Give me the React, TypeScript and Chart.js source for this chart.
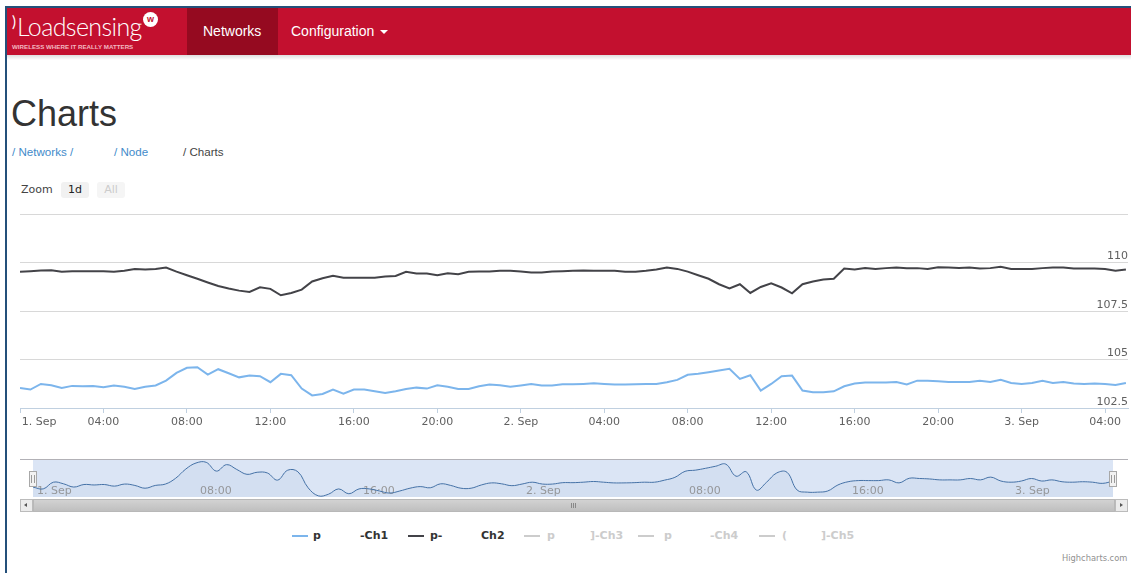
import React, { useEffect, useRef } from 'react';
import { Chart, registerables } from 'chart.js';

Chart.register(...registerables);

// ---- data (half-hourly samples starting 1 Sep 00:00) ----
const sampleIntervalHours = 0.5;
const ch1Values = [
  103.53, 103.45, 103.74, 103.67, 103.53, 103.64, 103.62, 103.64, 103.57, 103.66,
  103.60, 103.48, 103.60, 103.66, 103.91, 104.31, 104.57, 104.60, 104.22, 104.50,
  104.29, 104.08, 104.17, 104.14, 103.83, 104.26, 104.19, 103.50, 103.15, 103.22,
  103.45, 103.24, 103.45, 103.45, 103.36, 103.27, 103.36, 103.48, 103.55, 103.50,
  103.67, 103.60, 103.48, 103.48, 103.62, 103.71, 103.67, 103.59, 103.66, 103.74,
  103.66, 103.66, 103.72, 103.72, 103.74, 103.77, 103.74, 103.71, 103.71, 103.72,
  103.74, 103.74, 103.83, 103.95, 104.21, 104.26, 104.34, 104.43, 104.52, 104.00,
  104.19, 103.40, 103.74, 104.14, 104.17, 103.40, 103.31, 103.31, 103.36, 103.62,
  103.76, 103.81, 103.81, 103.81, 103.84, 103.71, 103.91, 103.90, 103.88, 103.84,
  103.84, 103.84, 103.90, 103.84, 103.96, 103.79, 103.74, 103.79, 103.90, 103.79,
  103.84, 103.76, 103.74, 103.76, 103.74, 103.69, 103.79,
];
const ch2Values = [
  109.52, 109.55, 109.59, 109.60, 109.52, 109.55, 109.55, 109.55, 109.55, 109.52,
  109.57, 109.67, 109.64, 109.67, 109.74, 109.53, 109.34, 109.16, 108.97, 108.79,
  108.66, 108.55, 108.48, 108.72, 108.64, 108.31, 108.43, 108.60, 109.02, 109.19,
  109.31, 109.21, 109.21, 109.21, 109.21, 109.28, 109.31, 109.52, 109.43, 109.43,
  109.34, 109.45, 109.40, 109.52, 109.53, 109.53, 109.57, 109.57, 109.53, 109.48,
  109.48, 109.53, 109.55, 109.57, 109.59, 109.57, 109.57, 109.57, 109.52, 109.52,
  109.57, 109.64, 109.74, 109.67, 109.53, 109.34, 109.16, 108.88, 108.66, 108.88,
  108.43, 108.74, 108.93, 108.71, 108.41, 108.88, 109.02, 109.12, 109.16, 109.69,
  109.64, 109.71, 109.66, 109.71, 109.74, 109.71, 109.71, 109.67, 109.76, 109.74,
  109.72, 109.74, 109.69, 109.71, 109.78, 109.67, 109.67, 109.67, 109.71, 109.74,
  109.74, 109.69, 109.69, 109.69, 109.66, 109.57, 109.64,
];
const sampleHours = ch1Values.map((_, i) => i * sampleIntervalHours);

const mainTickHours = [0, 4, 8, 12, 16, 20, 24, 28, 32, 36, 40, 44, 48, 52];
const navTickHours = [0, 8, 16, 24, 32, 40, 48];
const yTickValues = [102.5, 105, 107.5, 110, 112.5];
const monthName = 'Sep';
const firstDay = 1;

const seriesColors = ['#7cb5ec', '#434348', '#90ed7d', '#f7a35c', '#8085e9'];
const legendNames = [
  ['p', '-Ch1'],
  ['p-', 'Ch2'],
  ['p', ']-Ch3'],
  ['p', '-Ch4'],
  ['(', ']-Ch5'],
];
const legendVisible = [true, true, false, false, false];
const zoomButtons = ['1d', 'All'];

const pad2 = (n: number) => (n < 10 ? '0' + n : String(n));
const timeLabel = (h: number) =>
  h % 24 === 0 ? `${firstDay + h / 24}. ${monthName}` : `${pad2(h % 24)}:00`;

const FONT = 'DejaVu Sans';

const navDecor = {
  id: 'navDecor',
  beforeDraw(chart: any) {
    const { ctx, chartArea } = chart;
    ctx.save();
    ctx.fillStyle = '#dbe5f5';
    ctx.fillRect(chartArea.left, chartArea.top, chartArea.right - chartArea.left, chartArea.bottom - chartArea.top);
    ctx.strokeStyle = '#b2b1b6';
    ctx.lineWidth = 1;
    ctx.beginPath();
    ctx.moveTo(20, Math.round(chartArea.top) - 0.5);
    ctx.lineTo(1128, Math.round(chartArea.top) - 0.5);
    ctx.stroke();
    ctx.restore();
  },
  afterDraw(chart: any) {
    const { ctx, chartArea } = chart;
    const cy = Math.round((chartArea.top + chartArea.bottom) / 2);
    [chartArea.left, chartArea.right].forEach((x0: number) => {
      const x = Math.round(x0);
      ctx.save();
      ctx.fillStyle = '#f2f2f2';
      ctx.strokeStyle = '#a8a8a8';
      ctx.lineWidth = 1;
      ctx.fillRect(x - 4, cy - 8, 8, 15);
      ctx.strokeRect(x - 3.5, cy - 7.5, 7, 15);
      ctx.strokeStyle = '#9a9a9a';
      ctx.beginPath();
      ctx.moveTo(x - 1.5, cy - 4);
      ctx.lineTo(x - 1.5, cy + 4);
      ctx.moveTo(x + 1.5, cy - 4);
      ctx.lineTo(x + 1.5, cy + 4);
      ctx.stroke();
      ctx.restore();
    });
  },
};

export default function App() {
  const mainRef = useRef<HTMLCanvasElement>(null);
  const navRef = useRef<HTMLCanvasElement>(null);

  useEffect(() => {
    const main = new Chart(mainRef.current as HTMLCanvasElement, {
      type: 'line',
      data: {
        datasets: [
          {
            label: legendNames[0].join(''),
            data: sampleHours.map((h, i) => ({ x: h, y: ch1Values[i] })),
            borderColor: seriesColors[0],
            borderWidth: 2,
            pointRadius: 0,
            tension: 0,
          },
          {
            label: legendNames[1].join(''),
            data: sampleHours.map((h, i) => ({ x: h, y: ch2Values[i] })),
            borderColor: seriesColors[1],
            borderWidth: 2,
            pointRadius: 0,
            tension: 0,
          },
        ],
      },
      options: {
        responsive: false,
        animation: false,
        devicePixelRatio: 1,
        layout: { padding: { left: 20, right: 3, top: 9, bottom: 0 } },
        plugins: { legend: { display: false }, tooltip: { enabled: false } },
        scales: {
          x: {
            type: 'linear',
            min: 0,
            max: 53.1,
            afterBuildTicks: (s: any) => {
              s.ticks = mainTickHours.map((v) => ({ value: v }));
            },
            afterFit: (s: any) => {
              s.height = 29;
              s.paddingLeft = 0;
              s.paddingRight = 0;
            },
            ticks: {
              autoSkip: false,
              maxRotation: 0,
              minRotation: 0,
              padding: 3,
              color: '#606060',
              font: { family: FONT, size: 11 },
              callback: (v: any) => (v === 0 ? ' '.repeat(11) + timeLabel(v) : timeLabel(v)),
            },
            grid: {
              display: true,
              drawOnChartArea: false,
              drawTicks: true,
              tickLength: 5,
              color: '#C0D0E0',
            },
            border: { display: true, color: '#C0D0E0', width: 1 },
          },
          y: {
            type: 'linear',
            position: 'right',
            min: 102.5,
            max: 112.5,
            afterBuildTicks: (s: any) => {
              s.ticks = yTickValues.map((v) => ({ value: v }));
            },
            afterFit: (s: any) => {
              s.width = 0;
              s.paddingTop = 0;
              s.paddingBottom = 0;
            },
            ticks: {
              mirror: true,
              padding: 0,
              labelOffset: -6,
              color: '#606060',
              font: { family: FONT, size: 11 },
              callback: (v: any) => (v === yTickValues[yTickValues.length - 1] ? '' : String(v)),
            },
            grid: { color: '#D8D8D8', drawTicks: false },
            border: { display: false },
          },
        },
      },
    } as any);

    const nav = new Chart(navRef.current as HTMLCanvasElement, {
      type: 'line',
      data: {
        datasets: [
          {
            label: 'navigator',
            data: sampleHours.map((h, i) => ({ x: h, y: ch1Values[i] })),
            borderColor: '#4572A7',
            backgroundColor: 'rgba(69,114,167,0.05)',
            fill: 'start',
            borderWidth: 1,
            pointRadius: 0,
            tension: 0.4,
          },
        ],
      },
      options: {
        responsive: false,
        animation: false,
        devicePixelRatio: 1,
        layout: { padding: { left: 33, right: 18, top: 5, bottom: 0 } },
        plugins: { legend: { display: false }, tooltip: { enabled: false } },
        scales: {
          x: {
            type: 'linear',
            min: 0,
            max: sampleHours[sampleHours.length - 1],
            afterBuildTicks: (s: any) => {
              s.ticks = navTickHours.map((v) => ({ value: v }));
            },
            afterFit: (s: any) => {
              s.height = 3;
              s.paddingLeft = 0;
              s.paddingRight = 0;
            },
            ticks: {
              autoSkip: false,
              maxRotation: 0,
              minRotation: 0,
              mirror: true,
              align: 'start',
              labelOffset: 4,
              padding: -1,
              color: '#999999',
              font: { family: FONT, size: 11 },
              callback: (v: any) => timeLabel(v),
            },
            grid: { display: false, drawTicks: false },
            border: { display: false },
          },
          y: {
            type: 'linear',
            display: false,
            min: 103.1,
            max: 104.7,
          },
        },
      },
      plugins: [navDecor],
    } as any);

    return () => {
      main.destroy();
      nav.destroy();
    };
  }, []);

  const abs = (s: React.CSSProperties): React.CSSProperties => ({ position: 'absolute', ...s });
  const legendLayout = [
    { sym: 292, a: 313, b: 360 },
    { sym: 408, a: 430, b: 481 },
    { sym: 524, a: 547, b: 590 },
    { sym: 638, a: 664, b: 710 },
    { sym: 759, a: 782, b: 821 },
  ];

  return (
    <div
      style={abs({
        left: 0,
        top: 0,
        width: 1131,
        height: 573,
        overflow: 'hidden',
        background: '#ffffff',
        fontFamily: '"Liberation Sans", Arial, sans-serif',
      })}
    >
      {/* frame */}
      <div style={abs({ left: 5, top: 6, width: 1126, height: 2, background: '#24507a' })} />
      <div style={abs({ left: 5, top: 6, width: 2, height: 567, background: '#24507a' })} />

      {/* navbar */}
      <div style={abs({ left: 7, top: 8, width: 1124, height: 47, background: '#c3102f' })} />
      <div style={abs({ left: 7, top: 55, width: 1124, height: 5, background: 'linear-gradient(rgba(0,0,0,0.13), rgba(0,0,0,0))' })} />
      <div style={abs({ left: 187, top: 8, width: 91, height: 47, background: '#950a20' })} />
      <div style={abs({ left: 12, top: 13, fontSize: 15, color: '#fff', fontFamily: 'Lato', lineHeight: '16px' })}>)</div>
      <div
        style={abs({
          left: 17,
          top: 11,
          fontSize: 25,
          lineHeight: '30px',
          color: '#ffffff',
          fontFamily: 'Lato',
          fontWeight: 300,
          letterSpacing: -0.6,
        })}
      >
        Loadsensing
      </div>
      <div
        style={abs({
          left: 143,
          top: 12,
          width: 15,
          height: 15,
          borderRadius: 8,
          background: '#fff',
          color: '#c3102f',
          fontSize: 9,
          fontWeight: 700,
          lineHeight: '14px',
          textAlign: 'center',
        })}
      >
        w
      </div>
      <div
        style={abs({
          left: 12,
          top: 43,
          fontSize: 6.2,
          lineHeight: '8px',
          fontWeight: 700,
          color: '#f2b8c1',
          whiteSpace: 'nowrap',
        })}
      >
        WIRELESS WHERE IT REALLY MATTERS
      </div>
      <div style={abs({ left: 203, top: 8, height: 47, lineHeight: '47px', fontSize: 14, color: '#ffffff' })}>Networks</div>
      <div style={abs({ left: 291, top: 8, height: 47, lineHeight: '47px', fontSize: 14, color: '#ffffff' })}>Configuration</div>
      <div
        style={abs({
          left: 380,
          top: 30,
          width: 0,
          height: 0,
          borderLeft: '4px solid transparent',
          borderRight: '4px solid transparent',
          borderTop: '4px solid #ffffff',
        })}
      />

      {/* title + breadcrumb */}
      <div style={abs({ left: 11, top: 96, fontSize: 36, lineHeight: '36px', color: '#333333' })}>Charts</div>
      <div style={abs({ left: 12, top: 145, fontSize: 11.6, lineHeight: '14px', color: '#428bca', whiteSpace: 'pre' })}>/ Networks /</div>
      <div style={abs({ left: 114, top: 145, fontSize: 11.6, lineHeight: '14px', color: '#428bca', whiteSpace: 'pre' })}>/ Node</div>
      <div style={abs({ left: 183, top: 145, fontSize: 11.6, lineHeight: '14px', color: '#444444', whiteSpace: 'pre' })}>/ Charts</div>

      {/* range selector */}
      <div style={abs({ left: 21, top: 182, fontSize: 11, lineHeight: '16px', color: '#444444', fontFamily: FONT })}>Zoom</div>
      {zoomButtons.map((b, i) => (
        <div
          key={b}
          style={abs({
            left: 61 + i * 36,
            top: 182,
            width: 28,
            height: 16,
            borderRadius: 3,
            background: i === 0 ? '#f1f1f1' : '#f5f5f5',
            fontSize: 11,
            lineHeight: '16px',
            textAlign: 'center',
            fontFamily: FONT,
            color: i === 0 ? '#222222' : '#cccccc',
          })}
        >
          {b}
        </div>
      ))}

      {/* main chart */}
      <canvas ref={mainRef} width={1131} height={232} style={abs({ left: 0, top: 205, width: 1131, height: 232 })} />

      {/* navigator */}
      <canvas ref={navRef} width={1131} height={45} style={abs({ left: 0, top: 455, width: 1131, height: 45 })} />

      {/* scrollbar */}
      <div style={abs({ left: 20, top: 499, width: 1108, height: 13, background: '#eeeeee' })} />
      <div
        style={abs({
          left: 33,
          top: 499,
          width: 1082,
          height: 13,
          boxSizing: 'border-box',
          border: '1px solid #b8b8b8',
          background: 'linear-gradient(#d2d2d2, #bfbfbf)',
        })}
      />
      {[0, 1, 2].map((k) => (
        <div key={k} style={abs({ left: 571 + k * 2, top: 503, width: 1, height: 5, background: '#888888' })} />
      ))}
      {[20, 1115].map((x, k) => (
        <div
          key={x}
          style={abs({
            left: x,
            top: 499,
            width: 13,
            height: 13,
            boxSizing: 'border-box',
            border: '1px solid #bbbbbb',
            background: '#ebebeb',
          })}
        >
          <div
            style={abs({
              left: k === 0 ? 3 : 4,
              top: 3,
              width: 0,
              height: 0,
              borderTop: '2.5px solid transparent',
              borderBottom: '2.5px solid transparent',
              borderRight: k === 0 ? '3px solid #555' : undefined,
              borderLeft: k === 1 ? '3px solid #555' : undefined,
            })}
          />
        </div>
      ))}

      {/* legend */}
      {legendNames.map((parts, i) => {
        const lay = legendLayout[i];
        const vis = legendVisible[i];
        const col = vis ? seriesColors[i] : '#cccccc';
        const txt = vis ? '#333333' : '#cccccc';
        const st: React.CSSProperties = {
          top: 528,
          fontSize: 11,
          lineHeight: '16px',
          fontWeight: 700,
          fontFamily: FONT,
          color: txt,
          whiteSpace: 'pre',
        };
        return (
          <React.Fragment key={i}>
            <div style={abs({ left: lay.sym, top: 535, width: 16, height: 2, background: col })} />
            <div style={abs({ ...st, left: lay.a })}>{parts[0]}</div>
            <div style={abs({ ...st, left: lay.b })}>{parts[1]}</div>
          </React.Fragment>
        );
      })}

      {/* credits */}
      <div style={abs({ left: 1062, top: 552, fontSize: 8.3, lineHeight: '12px', color: '#909090', fontFamily: FONT })}>
        Highcharts.com
      </div>
    </div>
  );
}
